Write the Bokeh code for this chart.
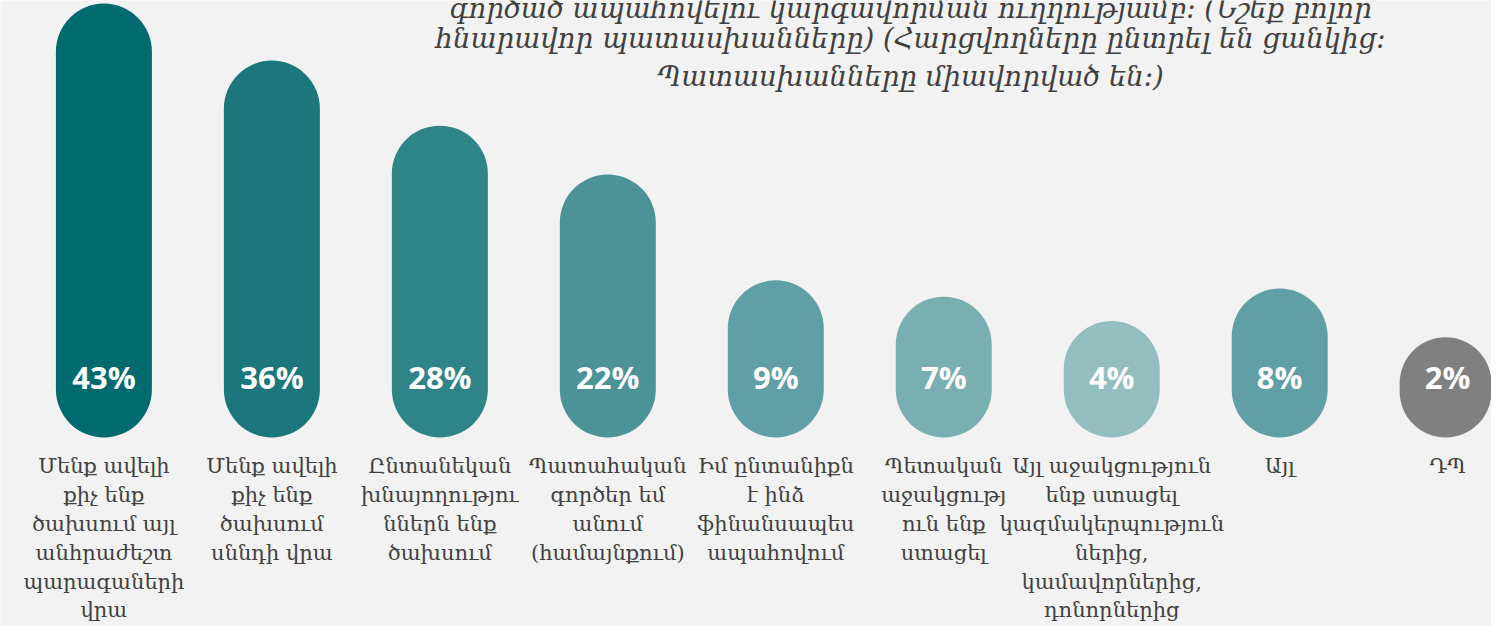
from bokeh.plotting import figure
from bokeh.models import ColumnDataSource, Range1d, Label
from bokeh.core.properties import value
from bokeh.embed import file_html
from bokeh.resources import INLINE

# ---- data ----
categories = [
    "Մենք ավելի\nքիչ ենք\nծախսում այլ\nանհրաժեշտ\nպարագաների\nվրա",
    "Մենք ավելի\nքիչ ենք\nծախսում\nսննդի վրա",
    "Ընտանեկան\nխնայողությու\nններն ենք\nծախսում",
    "Պատահական\nգործեր եմ\nանում\n(համայնքում)",
    "Իմ ընտանիքն\nէ ինձ\nֆինանսապես\nապահովում",
    "Պետական\nաջակցությ\nուն ենք\nստացել",
    "Այլ աջակցություն\nենք ստացել\nկազմակերպություն\nներից,\nկամավորներից,\nդոնորներից",
    "Այլ",
    "ԴՊ",
]
values = [43, 36, 28, 22, 9, 7, 4, 8, 2]
value_labels = ["43%", "36%", "28%", "22%", "9%", "7%", "4%", "8%", "2%"]
colors = ["#016a6e", "#1b777c", "#2f8488", "#4b9397", "#609fa5",
          "#7aafb1", "#94bdc0", "#609fa5", "#808080"]
title_lines = [
    "գործած ապահովելու կարգավորման ուղղությամբ: (Նշեք բոլոր",
    "հնարավոր պատասխանները) (Հարցվողները ընտրել են ցանկից:",
    "Պատասխանները միավորված են:)",
]

BASE = -10.3  # floor of the pills (data units)

src = ColumnDataSource(dict(
    x=list(range(len(values))),
    top=values,
    cat=categories,
    lab=value_labels,
    color=colors,
))

W, H = 1491, 626
p = figure(width=W, height=H, output_backend="svg", toolbar_location=None,
           x_range=Range1d(-0.6156, 8.261), y_range=Range1d(-33.52, 43.38),
           x_axis_location=None, y_axis_location=None,
           background_fill_color="#f2f2f2", border_fill_color="#f2f2f2",
           outline_line_color=None, min_border=0)
p.grid.visible = False

p.vbar(x="x", top="top", bottom=BASE, width=0.5715, source=src,
       fill_color="color", line_color=None, border_radius=48)

p.text(x="x", y=BASE, text="lab", source=src, y_offset=-60,
       text_align="center", text_baseline="middle",
       text_font=value("Open Sans"), text_font_style="bold",
       text_font_size="31px", text_color="white")

p.text(x="x", y=BASE, text="cat", source=src, y_offset=17,
       text_align="center", text_baseline="top",
       text_font=value("DejaVu Serif"), text_font_size="21px",
       text_line_height=1.2, text_color="#404040")

for line, yb in zip(title_lines, [619, 589, 551]):
    p.add_layout(Label(x=910, y=yb, x_units="screen", y_units="screen",
                       text=line, text_align="center", text_baseline="alphabetic",
                       text_font="DejaVu Serif", text_font_style="italic",
                       text_font_size="27.5px", text_color="#404040"))

open("out.html", "w").write(file_html(p, INLINE))
